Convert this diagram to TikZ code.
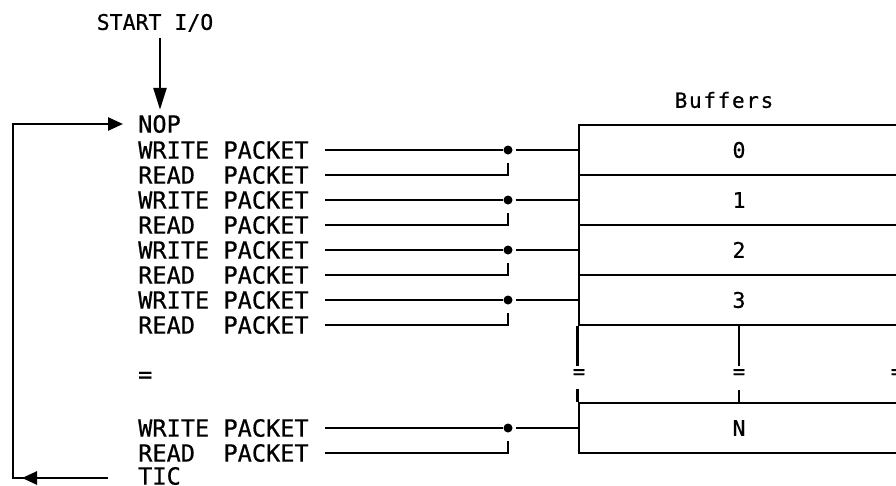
\documentclass[tikz,border=0pt]{standalone}
\usepackage{fontspec}
\newfontfamily\lstfont[FakeBold=0.6]{DejaVu Sans Mono}
\newfontfamily\buffont[LetterSpace=8,FakeBold=0.6]{DejaVu Sans Mono}
\usetikzlibrary{arrows.meta}
\begin{document}
\begin{tikzpicture}[x=1pt,y=-1pt,
  line/.style={line width=2.6pt},
  lst/.style={font=\lstfont\fontsize{23.6}{24}\selectfont, inner sep=0pt, anchor=west, text height=17.2pt, text depth=0pt},
  ttl/.style={font=\lstfont\fontsize{21.5}{22}\selectfont, inner sep=0pt, text height=15.7pt, text depth=0pt},
  buf/.style={font=\buffont\fontsize{21}{22}\selectfont, inner sep=0pt},
  rowbox/.style={draw, line width=2.6pt, minimum width=320pt, minimum height=50pt, inner sep=0pt,
    font=\lstfont\fontsize{21.5}{22}\selectfont, text height=15.6pt, text depth=0pt},
  dotn/.style={circle, fill, inner sep=0pt, minimum size=9pt},
  eqs/.style={font=\lstfont\fontsize{21}{21}\selectfont, inner sep=0pt},
  arr/.style={line, -{Triangle[length=22pt,width=13pt]}},
  arrs/.style={line, -{Triangle[length=15pt,width=13pt]}},
]
\useasboundingbox (0,0) rectangle (896,485);
\clip (0,0) rectangle (896,485);

\coordinate (lx) at (325,0);
\coordinate (ax) at (160,0);
\coordinate (lp) at (13,0);

% title
\node[ttl] (start) at (155,22) {START I/O};

% command list
\node[lst] (nop) at (138,124) {NOP};
\node[lst] (w0) at (138,150) {WRITE PACKET};
\node[lst] (r0) at (138,175) {READ~~PACKET};
\node[lst] (w1) at (138,200) {WRITE PACKET};
\node[lst] (r1) at (138,225) {READ~~PACKET};
\node[lst] (w2) at (138,250) {WRITE PACKET};
\node[lst] (r2) at (138,275) {READ~~PACKET};
\node[lst] (w3) at (138,300) {WRITE PACKET};
\node[lst] (r3) at (138,325) {READ~~PACKET};
\node[lst] (eqL) at (138,374) {=};
\node[lst] (wN) at (138,428) {WRITE PACKET};
\node[lst] (rN) at (138,453) {READ~~PACKET};
\node[lst] (tic) at (138,476) {TIC};

% buffers
\node[buf] (buffers) at (724,100) {Buffers};
\node[rowbox] (b0) at (739,150) {0};
\node[rowbox] (b1) at (739,200) {1};
\node[rowbox] (b2) at (739,250) {2};
\node[rowbox] (b3) at (739,300) {3};
\node[rowbox] (bN) at (739,428) {N};

% junction dots
\node[dotn] (d0) at (508,150) {};
\node[dotn] (d1) at (508,200) {};
\node[dotn] (d2) at (508,250) {};
\node[dotn] (d3) at (508,300) {};
\node[dotn] (dN) at (508,428) {};

\foreach \i in {0,1,2,3,N} {
  \draw[line] (w\i -| lx) -- (d\i);
  \draw[line] ([xshift=3pt]d\i.east) -- (b\i.west);
  \draw[line] (r\i -| lx) -- (r\i -| d\i) -- ++(0,-12);
}

% broken box continuation
\draw[line] (b3.south west) -- ++(0,40);
\draw[line] (b3.south) -- ++(0,40);
\draw[line] (b3.south east) -- ++(0,40);
\node[eqs] (e1) at (579,374) {=};
\node[eqs] (e2) at (739,374) {=};
\node[eqs] (e3) at (897,374) {=};
\draw[line] (bN.north west) -- ++(0,-13);
\draw[line] (bN.north) -- ++(0,-12);
\draw[line] (bN.north east) -- ++(0,-13);

% start arrow
\draw[arr, shorten >=5.4pt] (start.south -| ax) ++(0,8) -- (nop.north -| ax);

% loop back
\draw[line] ([xshift=-30pt,yshift=-2pt]tic.west) -- ([yshift=-2pt]tic -| lp) -- (nop -| lp) -- ++(20,0);
\draw[arrs] (nop -| lp) -- ([xshift=-15pt]nop.west);
\draw[arrs, shorten >=9pt] ([xshift=-30pt,yshift=-2pt]tic.west) -- ([yshift=-2pt]tic -| lp);
\end{tikzpicture}
\end{document}
